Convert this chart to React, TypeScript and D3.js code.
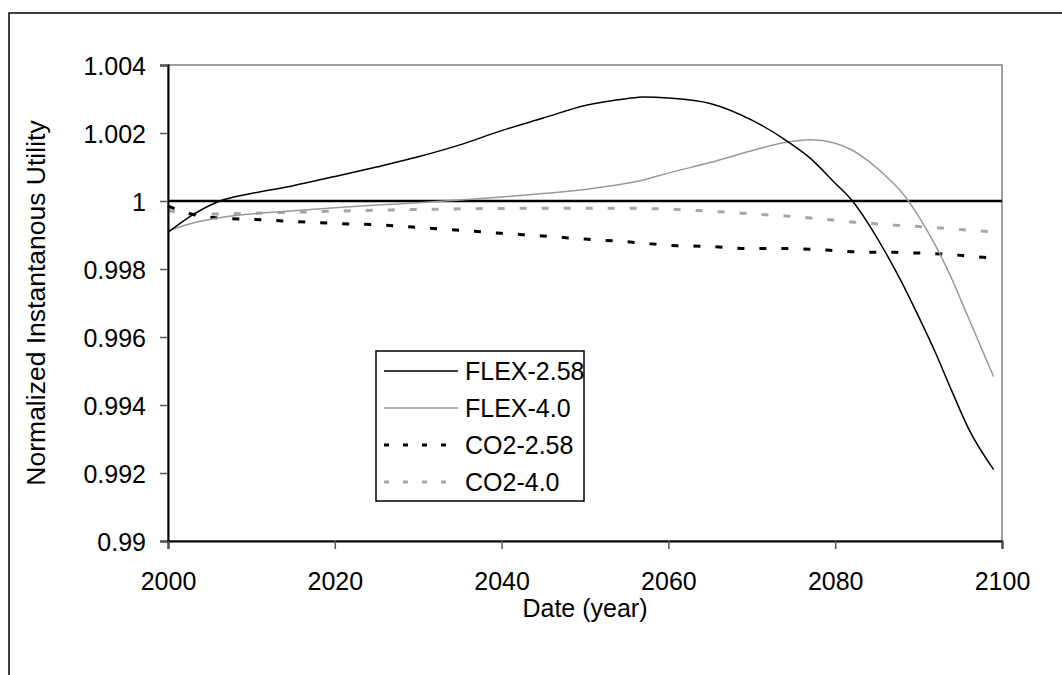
import React, { useEffect, useRef } from "react";
import * as d3 from "d3";

// sampled years shared by all series
const years = [2000, 2003, 2006, 2010, 2015, 2020, 2025, 2030, 2035, 2040, 2045, 2050, 2055, 2057,
  2060, 2065, 2070, 2074, 2077, 2080, 2082, 2084, 2086, 2088, 2090, 2092, 2094, 2096, 2099];

const flex258 = [0.99908, 0.99960, 0.99998, 1.00022, 1.00045, 1.00072, 1.00100, 1.00130, 1.00165, 1.00207,
  1.00244, 1.00281, 1.00301, 1.00306, 1.00303, 1.00287, 1.00238, 1.00180, 1.00126, 1.00052,
  1.00002, 0.99932, 0.99850, 0.99760, 0.99660, 0.99555, 0.99440, 0.99330, 0.99210];

const flex40 = [0.99912, 0.99935, 0.99950, 0.99962, 0.99971, 0.99980, 0.99988, 0.99995, 1.00003, 1.00012,
  1.00022, 1.00034, 1.00052, 1.00062, 1.00082, 1.00113, 1.00148, 1.00172, 1.00180, 1.00170,
  1.00150, 1.00117, 1.00075, 1.00025, 0.99955, 0.99870, 0.99770, 0.99655, 0.99483];

const co2_258 = [0.99985, 0.99960, 0.99950, 0.99946, 0.99940, 0.99934, 0.99930, 0.99922, 0.99914, 0.99905,
  0.99897, 0.99888, 0.99880, 0.99876, 0.99870, 0.99866, 0.99860, 0.99860, 0.99858, 0.99854,
  0.99851, 0.99849, 0.99850, 0.99848, 0.99847, 0.99845, 0.99842, 0.99838, 0.99832];

const co2_40 = [0.99972, 0.99962, 0.99962, 0.99964, 0.99967, 0.99970, 0.99973, 0.99975, 0.99977, 0.99978,
  0.99979, 0.99979, 0.99979, 0.99978, 0.99976, 0.99970, 0.99962, 0.99956, 0.99950, 0.99943,
  0.99938, 0.99935, 0.99930, 0.99928, 0.99925, 0.99922, 0.99918, 0.99914, 0.99909];

const seriesNames = ["FLEX-2.58", "FLEX-4.0", "CO2-2.58", "CO2-4.0"];
const yTicks = [0.99, 0.992, 0.994, 0.996, 0.998, 1, 1.002, 1.004];
const xTicks = [2000, 2020, 2040, 2060, 2080, 2100];

const App = () => {
  const ref = useRef<SVGSVGElement>(null);

  useEffect(() => {
    drawChart();
  }, []);

  const drawChart = () => {
    const W = 1062;
    const H = 675;
    const left = 168, right = 1002, top = 65, bottom = 541;
    const font = "'Liberation Sans', Arial, sans-serif";

    const svg = d3.select(ref.current);
    svg.selectAll("*").remove();

    const x = d3.scaleLinear().domain([2000, 2100]).range([left, right]);
    const y = d3.scaleLinear().domain([0.99, 1.004]).range([bottom, top]);

    // outer frame (runs past the picture on the right and bottom)
    svg.append("rect")
      .attr("x", 9).attr("y", 13)
      .attr("width", 1200).attr("height", 800)
      .attr("fill", "white").attr("stroke", "black").attr("stroke-width", 1.5);

    // plot area border
    svg.append("rect")
      .attr("x", left).attr("y", top)
      .attr("width", right - left).attr("height", bottom - top)
      .attr("fill", "none").attr("stroke", "#808080").attr("stroke-width", 1.5);

    // reference line at 1
    svg.append("line")
      .attr("x1", x(2000)).attr("x2", x(2100))
      .attr("y1", y(1)).attr("y2", y(1))
      .attr("stroke", "black").attr("stroke-width", 2.5);

    const styles = [
      { data: flex258, color: "black", width: 1.5, dash: null },
      { data: flex40, color: "#999999", width: 1.5, dash: null },
      { data: co2_258, color: "black", width: 3, dash: "7,15" },
      { data: co2_40, color: "#a6a6a6", width: 3, dash: "7,15" },
    ];

    const line = d3.line<[number, number]>()
      .x(d => x(d[0]))
      .y(d => y(d[1]))
      .curve(d3.curveMonotoneX);

    styles.slice().reverse().forEach(s => {
      const pts = years.map((yr, i) => [yr, s.data[i]] as [number, number]);
      const p = svg.append("path")
        .attr("d", line(pts))
        .attr("fill", "none")
        .attr("stroke", s.color)
        .attr("stroke-width", s.width);
      if (s.dash) p.attr("stroke-dasharray", s.dash);
    });

    // axes
    const yAxis = svg.append("g")
      .attr("transform", `translate(${left},0)`)
      .call(d3.axisLeft(y).tickValues(yTicks).tickSize(8).tickFormat(d => String(+(+d).toFixed(3))));
    const xAxis = svg.append("g")
      .attr("transform", `translate(0,${bottom})`)
      .call(d3.axisBottom(x).tickValues(xTicks).tickSize(8).tickFormat(d3.format("d")));

    [yAxis, xAxis].forEach(g => {
      g.select(".domain").attr("stroke", "black").attr("stroke-width", 2);
      g.selectAll(".tick line").attr("stroke", "#555").attr("stroke-width", 1.5);
      g.selectAll(".tick text")
        .attr("font-family", font).attr("font-size", 25).attr("fill", "black");
    });
    yAxis.selectAll(".tick text").attr("x", -22).attr("dy", "0.36em");
    xAxis.selectAll(".tick text").attr("y", 31).attr("dy", "0.71em");

    // axis titles
    svg.append("text")
      .attr("transform", `translate(45,${(top + bottom) / 2}) rotate(-90)`)
      .attr("text-anchor", "middle")
      .attr("font-family", font).attr("font-size", 26.5)
      .text("Normalized Instantanous Utility");
    svg.append("text")
      .attr("x", (left + right) / 2).attr("y", 617)
      .attr("text-anchor", "middle")
      .attr("font-family", font).attr("font-size", 25)
      .text("Date (year)");

    // legend
    const lg = svg.append("g");
    lg.append("rect")
      .attr("x", 376).attr("y", 351).attr("width", 208).attr("height", 150)
      .attr("fill", "white").attr("stroke", "black").attr("stroke-width", 1.5);
    styles.forEach((s, i) => {
      const cy = 371 + i * 37;
      const l = lg.append("line")
        .attr("x1", 384).attr("x2", 458).attr("y1", cy).attr("y2", cy)
        .attr("stroke", s.color).attr("stroke-width", s.width);
      if (s.dash) l.attr("stroke-dasharray", "5,14");
      lg.append("text")
        .attr("x", 465).attr("y", cy + 9)
        .attr("font-family", font).attr("font-size", 25)
        .text(seriesNames[i]);
    });

    svg.attr("width", W).attr("height", H);
  };

  return (
    <svg ref={ref} width={1062} height={675}
      style={{ position: "absolute", left: 0, top: 0, display: "block" }} />
  );
};

export default App;
